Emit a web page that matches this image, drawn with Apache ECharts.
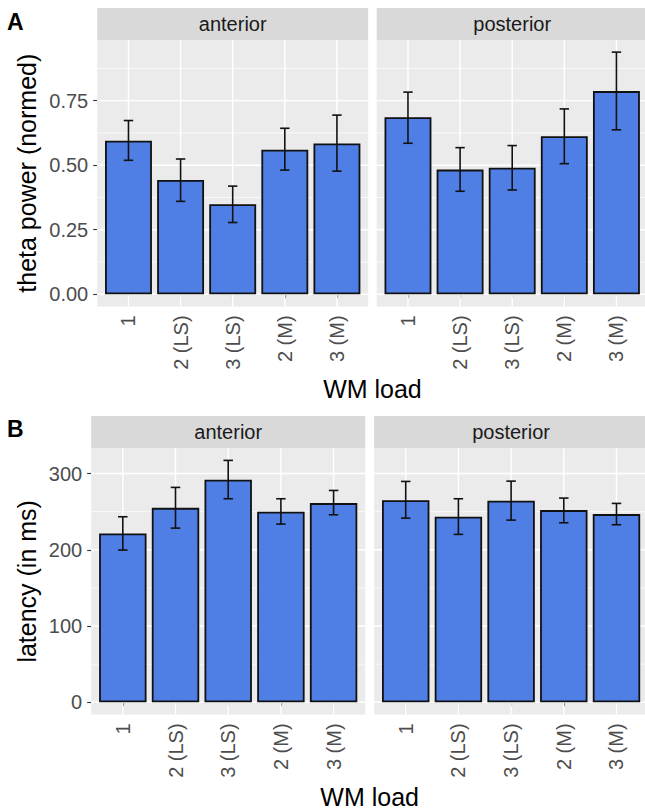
<!DOCTYPE html>
<html><head><meta charset="utf-8">
<script src="https://cdn.jsdelivr.net/npm/echarts@6/dist/echarts.min.js"></script>
<style>html,body{margin:0;padding:0;background:#fff}#c{width:645px;height:811px}</style>
</head><body><div id="c"></div>
<script>
// ---------- data ----------
const categories = ['1', '2 (LS)', '3 (LS)', '2 (M)', '3 (M)'];
const facets = ['anterior', 'posterior'];

const thetaAntMean = [0.595, 0.443, 0.349, 0.560, 0.584];
const thetaAntLow  = [0.519, 0.360, 0.278, 0.481, 0.477];
const thetaAntHigh = [0.673, 0.524, 0.419, 0.643, 0.694];
const thetaPostMean = [0.686, 0.483, 0.490, 0.612, 0.787];
const thetaPostLow  = [0.585, 0.399, 0.404, 0.506, 0.637];
const thetaPostHigh = [0.783, 0.568, 0.576, 0.718, 0.938];

const latAntMean = [221.5, 255.0, 291.8, 249.8, 261.2];
const latAntLow  = [199.6, 228.4, 266.9, 233.7, 245.9];
const latAntHigh = [243.3, 281.8, 317.2, 266.9, 277.8];
const latPostMean = [265.1, 243.3, 264.2, 252.0, 246.8];
const latPostLow  = [241.5, 220.2, 238.9, 235.4, 232.8];
const latPostHigh = [289.6, 266.9, 290.0, 267.8, 260.8];

const thetaTicks = [0, 0.25, 0.5, 0.75];
const thetaTickLabels = ['0.00', '0.25', '0.50', '0.75'];
const thetaMinor = [0.125, 0.375, 0.625, 0.875];
const latTicks = [0, 100, 200, 300];
const latTickLabels = ['0', '100', '200', '300'];
const latMinor = [50, 150, 250];

const panelTags = ['A', 'B'];
const yTitles = ['theta power (normed)', 'latency (in ms)'];
const xTitle = 'WM load';

// ---------- layout / style ----------
const FONT = '"Liberation Sans", Arial, Helvetica, sans-serif';
const BAR = '#4F7FE5';
const rows = [
  { top: 40, height: 266.4, stripTop: 8, lefts: [97.2, 376.7], width: 271, tagY: 23.5, xTitleY: 389, nameGap: 58,
    mean: [thetaAntMean, thetaPostMean], low: [thetaAntLow, thetaPostLow], high: [thetaAntHigh, thetaPostHigh],
    ticks: thetaTicks, tickLabels: thetaTickLabels, minor: thetaMinor, labelMargin: 9 },
  { top: 448.3, height: 266.1, stripTop: 416, lefts: [91.2, 374.1], width: 274, tagY: 430, xTitleY: 797, nameGap: 52,
    mean: [latAntMean, latPostMean], low: [latAntLow, latPostLow], high: [latAntHigh, latPostHigh],
    ticks: latTicks, tickLabels: latTickLabels, minor: latMinor, labelMargin: 9 }
];

const grid = [], xAxis = [], yAxis = [], series = [], graphic = [];

function hLines(params, api) {
  const cs = params.coordSys;
  const ext = api.size([1, 0])[0] * 0.1;
  const y = api.coord([0, api.value(1)])[1];
  const major = api.value(2) === 1;
  return { type: 'line', silent: true,
    shape: { x1: cs.x - ext, y1: y, x2: cs.x + cs.width + ext, y2: y },
    style: { stroke: '#FFFFFF', lineWidth: major ? 1.4 : 0.7 } };
}
function vLines(params, api) {
  const cs = params.coordSys;
  const x = api.coord([api.value(0), 0])[0];
  return { type: 'line', silent: true,
    shape: { x1: x, y1: cs.y, x2: x, y2: cs.y + cs.height },
    style: { stroke: '#FFFFFF', lineWidth: 1.4 } };
}
function errBars(params, api) {
  const i = api.value(0);
  const lo = api.coord([i, api.value(1)]);
  const hi = api.coord([i, api.value(2)]);
  const hw = api.size([1, 0])[0] * 0.09;
  const st = { stroke: '#111', lineWidth: 1.6, fill: null };
  return { type: 'group', children: [
    { type: 'line', shape: { x1: lo[0], y1: lo[1], x2: hi[0], y2: hi[1] }, style: st },
    { type: 'line', shape: { x1: hi[0] - hw, y1: hi[1], x2: hi[0] + hw, y2: hi[1] }, style: st },
    { type: 'line', shape: { x1: lo[0] - hw, y1: lo[1], x2: lo[0] + hw, y2: lo[1] }, style: st }
  ] };
}

rows.forEach((r, ri) => {
  const maxHi = Math.max(...r.high[0], ...r.high[1]);
  const yMin = -0.05 * maxHi, yMax = 1.05 * maxHi;
  graphic.push({ type: 'text', left: 7, top: r.tagY - 13, z: 10,
    style: { text: panelTags[ri], font: 'bold 23px ' + FONT, fill: '#000' } });
  const xl = r.lefts[0], xr = r.lefts[1] + r.width;
  graphic.push({ type: 'text', x: (xl + xr) / 2, y: r.xTitleY, z: 10,
    style: { text: xTitle, font: '25px ' + FONT, fill: '#000', textAlign: 'center', textVerticalAlign: 'middle' } });

  r.lefts.forEach((pl, fi) => {
    const gi = ri * 2 + fi;
    const unit = r.width / 5.2;
    graphic.push({ type: 'rect', z: 0, silent: true,
      shape: { x: pl, y: r.top, width: r.width, height: r.height }, style: { fill: '#EBEBEB' } });
    graphic.push({ type: 'rect', z: 0, silent: true,
      shape: { x: pl, y: r.stripTop, width: r.width, height: r.top - r.stripTop }, style: { fill: '#D9D9D9' } });
    graphic.push({ type: 'text', z: 10, x: pl + r.width / 2, y: (r.stripTop + r.top) / 2,
      style: { text: facets[fi], font: '20px ' + FONT, fill: '#1A1A1A', textAlign: 'center', textVerticalAlign: 'middle' } });

    grid.push({ left: pl + 0.1 * unit, top: r.top, width: 5 * unit, height: r.height });
    xAxis.push({ gridIndex: gi, type: 'category', data: categories, boundaryGap: true,
      axisLine: { show: false },
      axisTick: { show: true, alignWithLabel: true, length: 4, lineStyle: { color: '#333', width: 1.1 } },
      axisLabel: { rotate: 90, fontSize: 20, fontFamily: FONT, color: '#4D4D4D', margin: 9, interval: 0 },
      splitLine: { show: false } });
    const yax = { gridIndex: gi, type: 'value', min: yMin, max: yMax, offset: 0.1 * unit,
      axisLine: { show: false },
      axisTick: { show: fi === 0, customValues: r.ticks, length: 4, lineStyle: { color: '#333', width: 1.1 } },
      axisLabel: { show: fi === 0, customValues: r.ticks, fontSize: 20, fontFamily: FONT, color: '#4D4D4D', margin: r.labelMargin,
        formatter: v => { const k = r.ticks.findIndex(t => Math.abs(t - v) < 1e-9); return k >= 0 ? r.tickLabels[k] : ''; } },
      splitLine: { show: false }, minorSplitLine: { show: false } };
    if (fi === 0) {
      Object.assign(yax, { name: yTitles[ri], nameLocation: 'middle', nameRotate: 90, nameGap: r.nameGap,
        nameTextStyle: { fontSize: 25, fontFamily: FONT, color: '#000' } });
    }
    yAxis.push(yax);

    series.push({ type: 'custom', xAxisIndex: gi, yAxisIndex: gi, z: 1, silent: true, clip: false,
      renderItem: hLines, data: r.ticks.map(v => [0, v, 1]).concat(r.minor.map(v => [0, v, 0])) });
    series.push({ type: 'custom', xAxisIndex: gi, yAxisIndex: gi, z: 1, silent: true, clip: false,
      renderItem: vLines, data: categories.map((c, i) => [i, 0]) });
    series.push({ type: 'bar', xAxisIndex: gi, yAxisIndex: gi, z: 2, barWidth: '90%',
      data: r.mean[fi], itemStyle: { color: BAR, borderColor: '#111', borderWidth: 1.8 } });
    series.push({ type: 'custom', xAxisIndex: gi, yAxisIndex: gi, z: 3, clip: false,
      renderItem: errBars, encode: { x: 0, y: [1, 2] },
      data: categories.map((c, i) => [i, r.low[fi][i], r.high[fi][i]]) });
  });
});

const chart = echarts.init(document.getElementById('c'), null, { renderer: 'svg' });
chart.setOption({ animation: false, backgroundColor: '#fff', grid, xAxis, yAxis, series, graphic });
</script>
</body></html>
